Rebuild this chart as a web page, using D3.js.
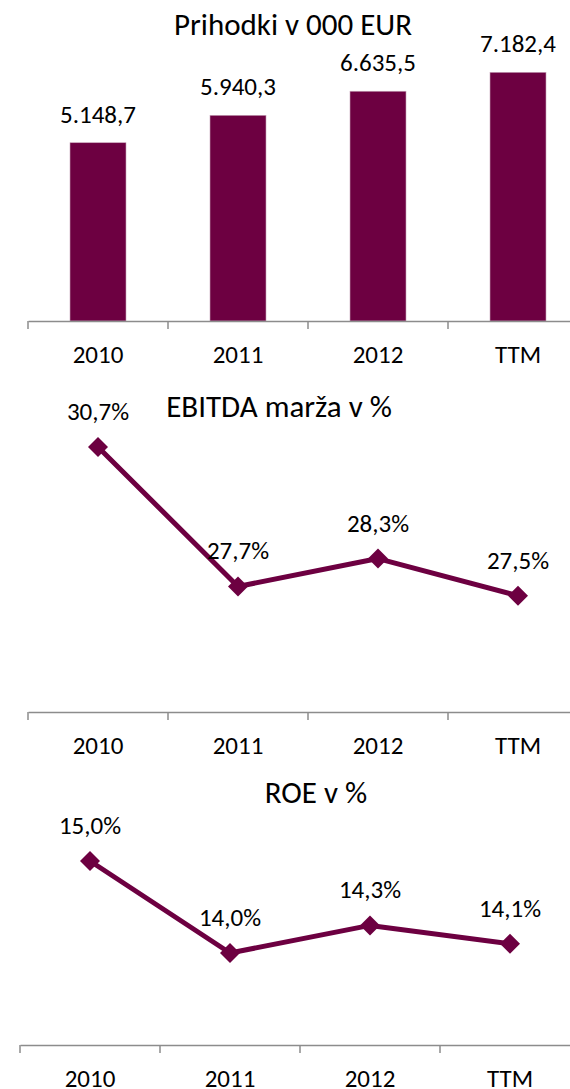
<!DOCTYPE html>
<html>
<head>
<meta charset="utf-8">
<script src="https://cdn.jsdelivr.net/npm/d3@7"></script>
<style>
  body { margin: 0; background: #fff; }
  text { font-family: Carlito, Calibri, "Open Sans", sans-serif; fill: #000; }
</style>
</head>
<body>
<svg width="570" height="1089"></svg>
<script>
var categories = ["2010", "2011", "2012", "TTM"];
var revenue = [5148.7, 5940.3, 6635.5, 7182.4];     // v 000 EUR
var ebitdaMargin = [30.7, 27.7, 28.3, 27.5];        // %
var roe = [15.0, 14.0, 14.3, 14.1];                 // %
var titles = ["Prihodki v 000 EUR", "EBITDA marža v %", "ROE v %"];

var color = "#6d0041",
    axisColor = "#8c8c8c";

var svg = d3.select("svg");

// slovenski zapis stevil: 5.148,7
var si = d3.formatLocale({decimal: ",", thousands: ".", grouping: [3], currency: ["", " EUR"]});
var fmtEur = si.format(",.1f"),
    fmtPct = function(v) { return si.format(".1f")(v) + "%"; };

// x os, ki je skupna vsem trem grafom (le zamik je drugacen)
function makeX(left) {
  return d3.scaleBand()
      .domain(categories)
      .range([left, left + 560])
      .paddingInner(0.6)
      .paddingOuter(0.3);
}

function drawAxis(g, x, y0) {
  var gap = (x.step() - x.bandwidth()) / 2;

  g.append("g")
      .attr("transform", "translate(0," + y0 + ")")
      .call(d3.axisBottom(x).tickSize(0).tickPadding(24))
      .call(function(a) {
        a.select(".domain").attr("stroke", axisColor).attr("stroke-width", 1.5);
        a.selectAll("text").attr("font-family", null).style("font-size", "25px");
      });

  g.append("g").selectAll("line")
    .data(categories)
    .enter().append("line")
      .attr("x1", function(d) { return x(d) - gap; })
      .attr("x2", function(d) { return x(d) - gap; })
      .attr("y1", y0)
      .attr("y2", y0 + 8)
      .attr("stroke", axisColor)
      .attr("stroke-width", 1.5);
}

function drawTitle(g, text, cx, cy) {
  g.append("text")
      .attr("x", cx)
      .attr("y", cy + 10)
      .attr("text-anchor", "middle")
      .style("font-size", "31px")
      .text(text);
}

// ---------- 1. Prihodki (stolpci) ----------
var g1 = svg.append("g");
var x1 = makeX(28);
var y1 = d3.scaleLinear().domain([0, 8000]).range([321, 44]);

drawTitle(g1, titles[0], 293, 25);

g1.selectAll("rect")
  .data(revenue)
  .enter().append("rect")
    .attr("x", function(d, i) { return x1(categories[i]); })
    .attr("y", function(d) { return y1(d); })
    .attr("width", x1.bandwidth())
    .attr("height", function(d) { return y1(0) - y1(d); })
    .attr("fill", color)
    .attr("stroke", "#c7a3b8")
    .attr("stroke-width", 0.6);

g1.selectAll(".val")
  .data(revenue)
  .enter().append("text")
    .attr("class", "val")
    .attr("x", function(d, i) { return x1(categories[i]) + x1.bandwidth() / 2; })
    .attr("y", function(d) { return y1(d) - 20; })
    .attr("text-anchor", "middle")
    .style("font-size", "25px")
    .text(fmtEur);

drawAxis(g1, x1, 321);

// ---------- crte ----------
function lineChart(values, left, yScale, axisY, title, tx, ty) {
  var g = svg.append("g");
  var x = makeX(left);
  var cx = function(i) { return x(categories[i]) + x.bandwidth() / 2; };

  drawTitle(g, title, tx, ty);
  drawAxis(g, x, axisY);

  var line = d3.line()
      .x(function(d, i) { return cx(i); })
      .y(function(d) { return yScale(d); });

  g.append("path")
      .datum(values)
      .attr("d", line)
      .attr("fill", "none")
      .attr("stroke", color)
      .attr("stroke-width", 5)
      .attr("stroke-linejoin", "round");

  g.selectAll(".pt")
    .data(values)
    .enter().append("path")
      .attr("class", "pt")
      .attr("d", "M0,-10L10,0L0,10L-10,0Z")
      .attr("transform", function(d, i) { return "translate(" + cx(i) + "," + yScale(d) + ")"; })
      .attr("fill", color);

  g.selectAll(".val")
    .data(values)
    .enter().append("text")
      .attr("class", "val")
      .attr("x", function(d, i) { return cx(i); })
      .attr("y", function(d) { return yScale(d) - 27; })
      .attr("text-anchor", "middle")
      .style("font-size", "25px")
      .text(fmtPct);
}

// 2. EBITDA marza
var y2 = d3.scaleLinear().domain([25, 32]).range([712, 386.5]);
lineChart(ebitdaMargin, 28, y2, 712, titles[1], 279, 407);

// 3. ROE
var y3 = d3.scaleLinear().domain([13, 16]).range([1045, 769]);
lineChart(roe, 20, y3, 1045, titles[2], 316, 793);
</script>
</body>
</html>
